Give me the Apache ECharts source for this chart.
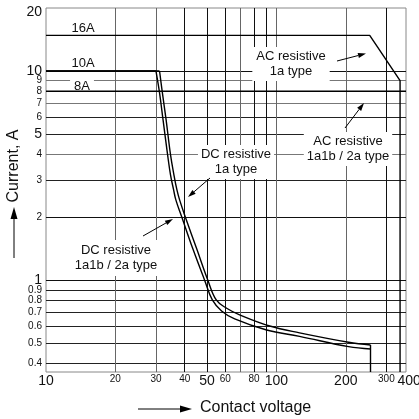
<!DOCTYPE html>
<html>
<head>
<meta charset="utf-8">
<script src="https://cdn.jsdelivr.net/npm/echarts@6/dist/echarts.min.js"></script>
<style>
    html, body { margin: 0; padding: 0; background: #fff; }
    #main { width: 419px; height: 419px; }
</style>
</head>
<body>
<div id="main"></div>
<script>
// 坐标轴 (对数刻度)
var xGridVals = [20, 30, 40, 50, 60, 70, 80, 90, 100, 200, 300];
var xGridColors = ['#666', '#666', '#111', '#111', '#111', '#666', '#111', '#111', '#666', '#666', '#111'];
var xLabelVals = [10, 20, 30, 40, 50, 60, 80, 100, 200, 300, 344];
var xLabelText = ['10', '20', '30', '40', '50', '60', '80', '100', '200', '300', '400'];
var xBigLabels = ['10', '50', '100', '200', '400'];

var yGridVals = [0.4, 0.5, 0.6, 0.7, 0.8, 0.9, 1, 2, 3, 4, 5, 6, 7, 8, 9, 10];
var yGridColors = ['#222', '#222', '#222', '#222', '#222', '#222', '#111', '#111', '#222', '#777', '#222', '#222', '#777', '#111', '#777', '#111'];
var yLabelVals = [0.4, 0.5, 0.6, 0.7, 0.8, 0.9, 1, 2, 3, 4, 5, 6, 7, 8, 9, 10, 20];
var yLabelText = ['0.4', '0.5', '0.6', '0.7', '0.8', '0.9', '1', '2', '3', '4', '5', '6', '7', '8', '9', '10', '20'];
var yBigLabels = ['1', '5', '10', '20'];

// DC resistive 1a1b / 2a type
var dc2aFlatV = [10, 30];
var dc2aFlatA = [10, 10];
var dc2aV = [30, 31.1, 32.2, 33.7, 34.7, 35.8, 36.6, 38.8, 43.5, 48.8, 52.7, 57.8, 65.9, 90.7, 126, 205.6, 256];
var dc2aA = [10, 7.85, 5.85, 3.98, 3.19, 2.70, 2.42, 2.01, 1.4, 1.0, 0.805, 0.713, 0.653, 0.578, 0.539, 0.481, 0.469];
var dc2aDropV = [256, 256];
var dc2aDropA = [0.469, 0.364];
// DC resistive 1a type
var dc1aFlatV = [10, 31.1];
var dc1aFlatA = [10, 10];
var dc1aV = [31.1, 32.0, 33.2, 34.7, 35.9, 37.0, 38.0, 40.2, 45.2, 50.4, 54.8, 60.8, 69.2, 93.5, 126, 205.6, 256];
var dc1aA = [10, 7.85, 5.85, 3.98, 3.19, 2.70, 2.42, 2.01, 1.4, 1.0, 0.805, 0.734, 0.683, 0.604, 0.56, 0.505, 0.49];
var dc1aDropV = [256, 256];
var dc1aDropA = [0.49, 0.469];
// AC resistive 1a type
var ac1aV = [10, 254, 344, 344];
var ac1aA = [14.8, 14.8, 9, 0.364];
// AC resistive 1a1b / 2a type
var ac2aV = [10, 365];
var ac2aA = [8, 8];

var FONT = '"Liberation Sans", Arial, sans-serif';

function lg(v) { return Math.log10(v); }
function pairs(xs, ys) {
    return xs.map(function (x, i) { return [lg(x), lg(ys[i])]; });
}
function findText(vals, texts, value) {
    for (var i = 0; i < vals.length; i++) {
        if (Math.abs(lg(vals[i]) - value) < 1e-6) return texts[i];
    }
    return '';
}
function curve(name, xs, ys, smooth) {
    return {
        name: name,
        type: 'line',
        data: pairs(xs, ys),
        symbol: 'none',
        silent: true,
        smooth: smooth || false,
        z: 5,
        lineStyle: { color: '#000', width: 1.4 }
    };
}
function label(text, x, y, size, pad) {
    return {
        type: 'text',
        z: 1,
        style: {
            text: text, x: x, y: y,
            fill: '#111',
            fontSize: size, fontFamily: FONT,
            align: 'center', verticalAlign: 'middle',
            textAlign: 'center', textVerticalAlign: 'middle',
            lineHeight: size + 2,
            backgroundColor: '#fff',
            padding: pad || 0
        }
    };
}
function arrow(x1, y1, x2, y2, len, w) {
    var dx = x2 - x1, dy = y2 - y1;
    var d = Math.sqrt(dx * dx + dy * dy);
    var ux = dx / d, uy = dy / d;
    var bx = x2 - ux * len, by = y2 - uy * len;
    return [{
        type: 'line', z: 2,
        shape: { x1: x1, y1: y1, x2: bx, y2: by },
        style: { stroke: '#000', lineWidth: 1 }
    }, {
        type: 'polygon', z: 2,
        shape: { points: [[x2, y2], [bx - uy * w / 2, by + ux * w / 2], [bx + uy * w / 2, by - ux * w / 2]] },
        style: { fill: '#000' }
    }];
}

var graphics = [
    label('16A', 83, 28, 13),
    label('10A', 83, 63, 13),
    label('8A', 82, 86, 13, [0, 4]),
    label('AC resistive\n1a type', 291, 64, 13, [2, 4]),
    label('AC resistive\n1a1b / 2a type', 348, 149, 13, [2, 3]),
    label('DC resistive\n1a type', 236, 162, 13, [2, 3]),
    label('DC resistive\n1a1b / 2a type', 116, 258, 13, [3, 2]),
    {
        type: 'text',
        x: 14, y: 166,
        rotation: Math.PI / 2,
        style: {
            text: 'Current, A', x: 0, y: 0, fill: '#111',
            fontSize: 16, fontFamily: FONT,
            align: 'center', verticalAlign: 'middle',
            textAlign: 'center', textVerticalAlign: 'middle'
        }
    },
    {
        type: 'text',
        style: {
            text: 'Contact voltage', x: 200, y: 408, fill: '#111',
            fontSize: 16, fontFamily: FONT,
            align: 'left', verticalAlign: 'middle',
            textAlign: 'left', textVerticalAlign: 'middle'
        }
    }
];
graphics = graphics
    .concat(arrow(337, 61, 366, 53.5, 8, 5))
    .concat(arrow(345, 128, 364, 103, 8, 5))
    .concat(arrow(210, 178, 188, 197, 8, 5))
    .concat(arrow(143, 236, 173, 219, 8, 5))
    .concat(arrow(14, 258, 14, 207, 12, 7))
    .concat(arrow(138, 409, 192, 409, 12, 7));

var option = {
    animation: false,
    backgroundColor: '#fff',
    grid: {
        left: 46, right: 13, top: 8, bottom: 47,
        show: true,
        borderColor: '#888',
        borderWidth: 1,
        outerBoundsMode: 'none',
        containLabel: false
    },
    xAxis: {
        type: 'value',
        min: 1,
        max: lg(365),
        axisLine: { show: false },
        axisTick: { show: false, customValues: xGridVals.map(lg) },
        splitLine: { show: true, lineStyle: { color: xGridColors, width: 1 } },
        axisLabel: {
            customValues: xLabelVals.map(lg),
            hideOverlap: false,
            margin: 2,
            formatter: function (value) {
                var t = findText(xLabelVals, xLabelText, value);
                var s = xBigLabels.indexOf(t) >= 0 ? (t === '400' ? 'far' : 'big') : 'small';
                return '{' + s + '|' + t + '}';
            },
            rich: {
                big: { fontSize: 14, color: '#111', fontFamily: FONT },
                far: { fontSize: 14, color: '#111', fontFamily: FONT, padding: [0, 0, 0, 18] },
                small: { fontSize: 10, color: '#111', fontFamily: FONT, verticalAlign: 'top' }
            }
        }
    },
    yAxis: {
        type: 'value',
        min: lg(0.364),
        max: lg(20),
        axisLine: { show: false },
        axisTick: { show: false, customValues: yGridVals.map(lg) },
        splitLine: { show: true, lineStyle: { color: yGridColors, width: 1 } },
        axisLabel: {
            customValues: yLabelVals.map(lg),
            hideOverlap: false,
            margin: 4,
            formatter: function (value) {
                var t = findText(yLabelVals, yLabelText, value);
                var s = yBigLabels.indexOf(t) >= 0 ? (t === '20' ? 'top' : 'big') : 'small';
                return '{' + s + '|' + t + '}';
            },
            rich: {
                big: { fontSize: 14, color: '#111', fontFamily: FONT },
                top: { fontSize: 14, color: '#111', fontFamily: FONT, padding: [9, 0, 0, 0] },
                small: { fontSize: 10, color: '#111', fontFamily: FONT }
            }
        }
    },
    series: [
        curve('DC 1a1b/2a flat', dc2aFlatV, dc2aFlatA),
        curve('DC 1a1b/2a', dc2aV, dc2aA, 0.4),
        curve('DC 1a1b/2a end', dc2aDropV, dc2aDropA),
        curve('DC 1a flat', dc1aFlatV, dc1aFlatA),
        curve('DC 1a', dc1aV, dc1aA, 0.4),
        curve('DC 1a end', dc1aDropV, dc1aDropA),
        curve('AC 1a', ac1aV, ac1aA),
        curve('AC 1a1b/2a', ac2aV, ac2aA)
    ],
    graphic: graphics
};

var myChart = echarts.init(document.getElementById('main'));
myChart.setOption(option);
</script>
</body>
</html>
